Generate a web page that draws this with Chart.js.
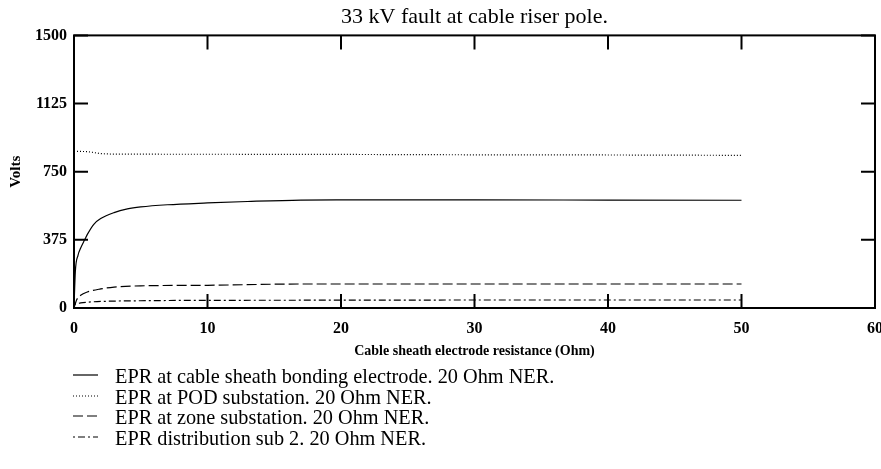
<!DOCTYPE html>
<html>
<head>
<meta charset="utf-8">
<script src="https://cdn.jsdelivr.net/npm/chart.js@4"></script>
<style>
  body { margin: 0; background: #fff; }
  #wrap { position: relative; width: 881px; height: 469px; }
  #legend { position: absolute; left: 73px; top: 366px; font-family: 'Liberation Serif', serif; font-size: 20.3px; color: #000; }
  #legend div { height: 20.5px; line-height: 20.5px; white-space: nowrap; }
  #legend svg { vertical-align: middle; margin-right: 17px; position: relative; top: -3px; }
</style>
</head>
<body>
<div id="wrap">
  <canvas id="eprChart" width="881" height="469"></canvas>
  <div id="legend"></div>
</div>
<script>
// resistance (Ohm) and EPR (V)
const sheathX = [0, 0.1, 0.3, 0.5, 0.8, 1.0, 1.5, 2, 3, 4, 5, 7, 10, 13, 17, 20, 30, 40, 50];
const sheathY = [0, 200, 290, 330, 375, 405, 462, 492, 525, 545, 556, 568, 578, 586, 594, 595, 595, 594, 593];

const podX = [0, 1, 2, 3, 10, 20, 30, 40, 50];
const podY = [862, 860, 850, 847, 846, 845, 843, 842, 840];

const zoneX = [0, 0.2, 0.5, 1, 2, 3, 5, 10, 17, 30, 50];
const zoneY = [0, 45, 70, 88, 105, 115, 122, 125, 132, 132, 132];

const distX = [0, 0.5, 1, 2, 5, 10, 20, 30, 50];
const distY = [20, 28, 32, 36, 40, 42, 43, 44, 44];

const seriesLabels = [
    'EPR at cable sheath bonding electrode. 20 Ohm NER.',
    'EPR at POD substation. 20 Ohm NER.',
    'EPR at zone substation. 20 Ohm NER.',
    'EPR distribution sub 2. 20 Ohm NER.'
];
const dashes = [[], [1, 2], [10, 4], [2, 3, 7, 3]];

const xTicks = [0, 10, 20, 30, 40, 50, 60];
const yTicks = [0, 375, 750, 1125, 1500];

const pts = (xs, ys) => xs.map((x, i) => ({ x: x, y: ys[i] }));
const serif = 'Liberation Serif, Times New Roman, serif';

// inward tick marks and frame, like the original plot
const frame = {
    id: 'frame',
    afterDraw(chart) {
        const { ctx, chartArea: a, scales } = chart;
        ctx.save();
        ctx.strokeStyle = '#000';
        ctx.lineWidth = 2;
        ctx.strokeRect(a.left, a.top, a.right - a.left, a.bottom - a.top);
        const len = 14;
        ctx.beginPath();
        xTicks.forEach(v => {
            const px = scales.x.getPixelForValue(v);
            ctx.moveTo(px, a.top); ctx.lineTo(px, a.top + len);
            ctx.moveTo(px, a.bottom); ctx.lineTo(px, a.bottom - len);
        });
        yTicks.forEach(v => {
            const py = scales.y.getPixelForValue(v);
            ctx.moveTo(a.left, py); ctx.lineTo(a.left + len, py);
            ctx.moveTo(a.right, py); ctx.lineTo(a.right - len, py);
        });
        ctx.stroke();
        ctx.restore();
    }
};

new Chart(document.getElementById('eprChart'), {
    type: 'line',
    data: {
        datasets: [
            { label: seriesLabels[0], data: pts(sheathX, sheathY), borderDash: dashes[0] },
            { label: seriesLabels[1], data: pts(podX, podY), borderDash: dashes[1] },
            { label: seriesLabels[2], data: pts(zoneX, zoneY), borderDash: dashes[2] },
            { label: seriesLabels[3], data: pts(distX, distY), borderDash: dashes[3] },
        ]
    },
    options: {
        responsive: false,
        animation: false,
        layout: { padding: { left: 0, right: 6, bottom: 109 } },
        elements: {
            line: { borderColor: '#000', borderWidth: 1.2, cubicInterpolationMode: 'monotone' },
            point: { radius: 0 }
        },
        plugins: {
            legend: { display: false },
            tooltip: { enabled: false },
            title: {
                display: true,
                fullSize: false,
                text: '33 kV fault at cable riser pole.',
                color: '#000',
                font: { family: serif, size: 22, weight: 'normal' },
                padding: { top: 4, bottom: 5 }
            }
        },
        scales: {
            x: {
                type: 'linear', min: 0, max: 60,
                afterBuildTicks: s => { s.ticks = xTicks.map(v => ({ value: v })); },
                afterFit: s => { s.height = 52; s.paddingLeft = 0; s.paddingRight = 0; },
                grid: { display: false, drawTicks: false },
                border: { display: false },
                ticks: { color: '#000', padding: 11, maxRotation: 0, callback: v => String(v), font: { family: serif, size: 16, weight: 'bold' } },
                title: {
                    display: true, text: 'Cable sheath electrode resistance (Ohm)', color: '#000',
                    padding: { top: 0, bottom: 0 },
                    font: { family: serif, size: 14, weight: 'bold' }
                }
            },
            y: {
                min: 0, max: 1500,
                afterBuildTicks: s => { s.ticks = yTicks.map(v => ({ value: v })); },
                afterFit: s => { s.width = 74; },
                grid: { display: false, drawTicks: false },
                border: { display: false },
                ticks: { color: '#000', padding: 7, callback: v => String(v), font: { family: serif, size: 16, weight: 'bold' } },
                title: {
                    display: true, text: 'Volts', color: '#000',
                    padding: { top: 7, bottom: 0 },
                    font: { family: serif, size: 15, weight: 'bold' }
                }
            }
        }
    },
    plugins: [frame]
});

// legend as a vertical list below the plot
const legend = document.getElementById('legend');
seriesLabels.forEach((label, i) => {
    const row = document.createElement('div');
    const dash = dashes[i].length ? dashes[i].join(' ') : 'none';
    row.innerHTML = '<svg width="25" height="6"><line x1="0" y1="3" x2="25" y2="3" stroke="#000" stroke-width="1.2" stroke-dasharray="' + dash + '"/></svg>' + label;
    legend.appendChild(row);
});
</script>
</body>
</html>
